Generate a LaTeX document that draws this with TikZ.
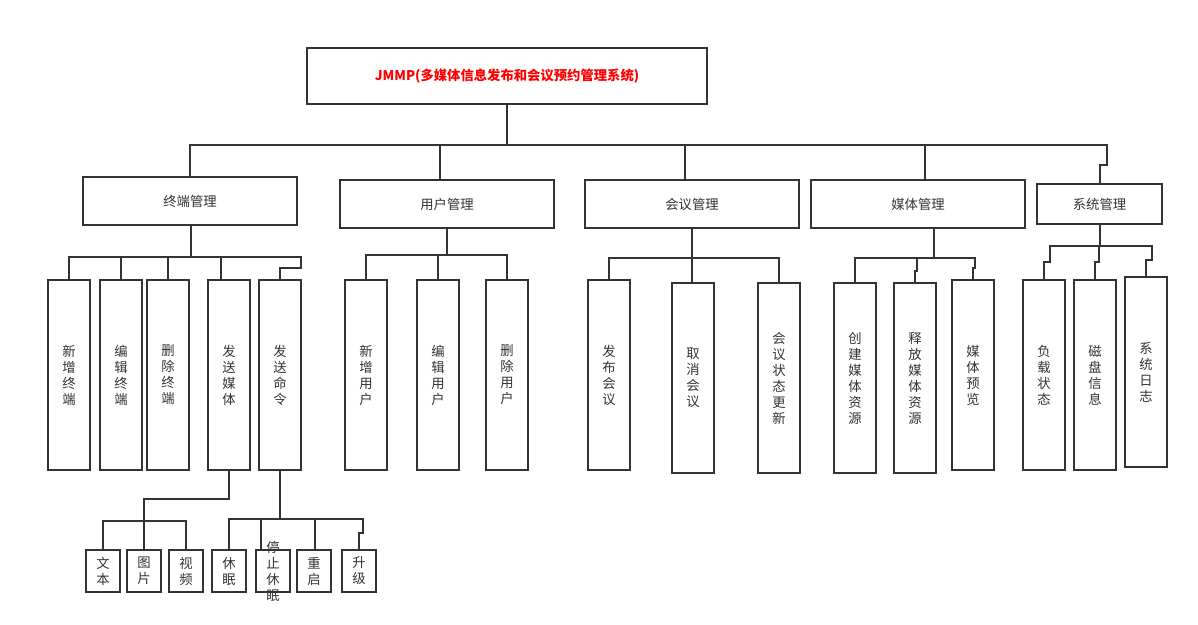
\documentclass[tikz,border=0pt]{standalone}
\usepackage{fontspec}
\setmainfont{Noto Sans CJK SC}
\usetikzlibrary{calc}
\definecolor{ln}{HTML}{333333}
\begin{document}
\begin{tikzpicture}[x=0.75pt,y=-0.75pt,
  conn/.style={draw=ln,line width=1.5pt},
  basebox/.style={draw=ln,line width=1.5pt,inner sep=0pt,align=center,text=ln,font=\fontsize{10}{12}\selectfont},
  rootbox/.style={basebox,minimum width=300pt,minimum height=42pt,text=red,font=\fontsize{10}{12}\selectfont\bfseries},
  hbox/.style={basebox,minimum width=160.5pt,minimum height=36pt},
  vbox/.style={basebox,minimum width=31.5pt,minimum height=142.5pt},
  sbox/.style={basebox,minimum width=25.5pt,minimum height=31.5pt},
  vtxt/.style={inner sep=0pt,align=center,text=ln,font=\fontsize{10}{12}\selectfont}]
\fill[white] (0,0) rectangle (1198,624);
\useasboundingbox (0,0) rectangle (1198,624);

% root and first level
\node[rootbox] (root) at (507,76) {JMMP(多媒体信息发布和会议预约管理系统)};
\node[hbox] (g1) at (190,201) {终端管理};
\node[hbox] (g2) at (447,204) {用户管理};
\node[hbox] (g3) at (692,204) {会议管理};
\node[hbox] (g4) at (918,204) {媒体管理};
\node[hbox,minimum width=93.75pt,minimum height=30pt] (g5) at (1099.5,204) {系统管理};

% second level
\node[vbox] (t1) at (69,375) {新\\增\\终\\端};
\node[vbox] (t2) at (121,375) {编\\辑\\终\\端};
\node[vbox] (t3) at (168,375) {删\\除\\终\\端};
\node[vbox] (t4) at (229,375) {发\\送\\媒\\体};
\node[vbox] (t5) at (280,375) {发\\送\\命\\令};

\node[vbox] (u1) at (366,375) {新\\增\\用\\户};
\node[vbox] (u2) at (438,375) {编\\辑\\用\\户};
\node[vbox] (u3) at (507,375) {删\\除\\用\\户};

\node[vbox] (m1) at (609,375) {发\\布\\会\\议};
\node[vbox] (m2) at (693,378) {取\\消\\会\\议};
\node[vbox] (m3) at (779,378) {会\\议\\状\\态\\更\\新};

\node[vbox] (d1) at (855,378) {创\\建\\媒\\体\\资\\源};
\node[vbox] (d2) at (915,378) {释\\放\\媒\\体\\资\\源};
\node[vbox] (d3) at (973,375) {媒\\体\\预\\览};

\node[vbox] (s1) at (1044,375) {负\\载\\状\\态};
\node[vbox] (s2) at (1095,375) {磁\\盘\\信\\息};
\node[vbox] (s3) at (1146,372) {系\\统\\日\\志};

% third level
\node[sbox] (b1) at (103,571) {文\\本};
\node[sbox] (b2) at (144,571) {图\\片};
\node[sbox] (b3) at (186,571) {视\\频};
\node[sbox] (c1) at (229,571) {休\\眠};
\node[sbox] (c2) at (273,571) {};
\node[vtxt] (c2t) at (273,571) {停\\止\\休\\眠};
\node[sbox] (c3) at (314,571) {重\\启};
\node[sbox] (c4) at (359,571) {升\\级};

% top bus
\coordinate (busL) at (191,145);
\coordinate (busR) at (1107,145);
\draw[conn] (root.south) -- (root.south |- busL);
\draw[conn] (g1.north) |- (busR) -- ++(0,20) -| (g5.north);
\draw[conn] ($(g2.north)+(-7,0)$) -- ++(0,-35);
\draw[conn] ($(g3.north)+(-7,0)$) -- ++(0,-35);
\draw[conn] ($(g4.north)+(7,0)$) -- ++(0,-35);

% group 1
\coordinate (j1r) at (301,257);
\draw[conn] ($(g1.south)+(1,0)$) -- ++(0,32);
\draw[conn] (t1.north) |- (j1r) -- ++(0,11) -| (t5.north);
\draw[conn] (t2.north) -- (t2.north |- j1r);
\draw[conn] (t3.north) -- (t3.north |- j1r);
\draw[conn] ($(t4.north)+(-8,0)$) -- ++(0,-23);

% group 2
\coordinate (j2r) at (507,255);
\draw[conn] (g2.south) -- (g2.south |- j2r);
\draw[conn] (u1.north) |- (j2r) -- (u3.north);
\draw[conn] (u2.north) -- (u2.north |- j2r);

% group 3
\coordinate (j3r) at (779,258);
\draw[conn] (g3.south) -- (g3.south |- m2.north);
\draw[conn] (m1.north) |- (j3r) -- (m3.north);

% group 4
\coordinate (j4r) at (975,258);
\draw[conn] ($(g4.south)+(16,0)$) -- ++(0,30);
\draw[conn] (d1.north) |- (j4r) -- ++(0,10) -| (d3.north);
\draw[conn] (d2.north) -- ++(0,-11) -- ++(2,0) -- ++(0,-14);

% group 5
\coordinate (j5r) at (1152,246);
\draw[conn] (g5.south) -- ++(0,22);
\draw[conn] (s1.north) -- ++(0,-17) -- ++(6,0) |- (j5r) -- ++(0,14) -| (s3.north);
\draw[conn] (s2.north) -- ++(0,-17) -- ++(4,0) -- ++(0,-17);

% media sub-items
\coordinate (k1) at (186,521);
\draw[conn] (t4.south) -- ++(0,28) -| (b2.north);
\draw[conn] (b1.north) |- (k1) -- (b3.north);

% command sub-items
\coordinate (k2r) at (363,519);
\draw[conn] (t5.south) -- (t5.south |- k2r);
\draw[conn] (c1.north) |- (k2r) -- ++(0,14) -| (c4.north);
\draw[conn] ($(c2.north)+(-12,0)$) -- ++(0,-31);
\draw[conn] ($(c3.north)+(1,0)$) -- ++(0,-31);
\end{tikzpicture}
\end{document}
